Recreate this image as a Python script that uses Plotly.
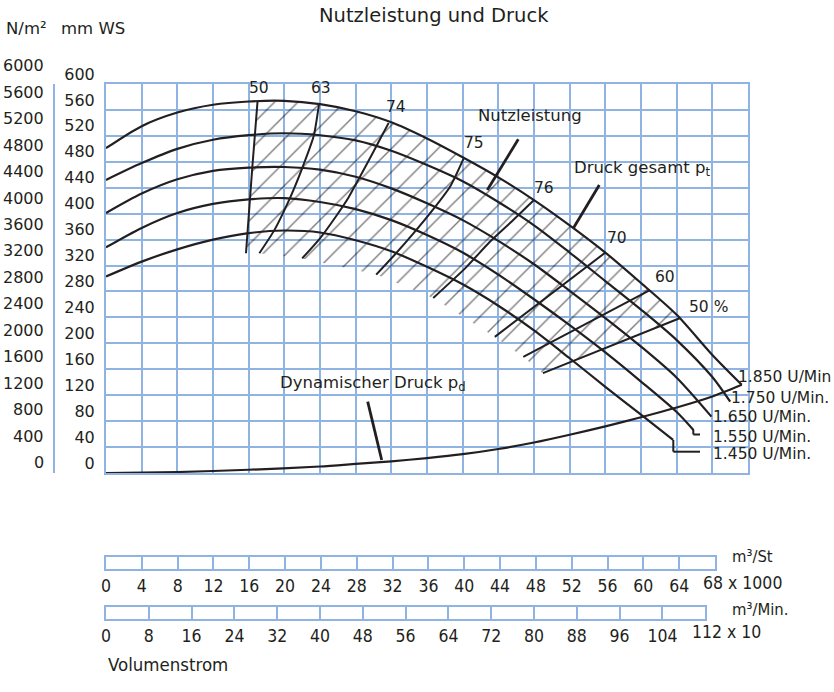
import plotly.graph_objects as go

W, H = 834, 692
INK = "#231f20"
GRID = "#8fb4e3"
FONT = "DejaVu Sans"
COND = "DejaVu Sans Condensed, Liberation Sans Narrow, Roboto Condensed, Roboto, sans-serif"

# ---------------- data (flow in 1000 m3/h, total pressure in mm WS) ----------------
Q_1850 = [0, 4, 8, 12, 16, 20, 24, 28, 32, 36, 40, 44, 48, 52, 56, 60, 64, 68, 71.3]
P_1850 = [501, 535, 556, 568, 573, 574, 569, 558, 541, 516, 487, 456, 421, 382, 340, 293, 244, 182, 136]
Q_1750 = [0, 4, 8, 12, 16, 20, 24, 28, 32, 36, 40, 44, 48, 52, 56, 60, 64, 68, 70]
P_1750 = [452, 478, 500, 514, 521, 524, 521, 513, 497, 475, 450, 418, 382, 340, 296, 252, 205, 148, 110]
Q_1650 = [0, 4, 8, 12, 16, 20, 24, 28, 32, 36, 40, 44, 48, 52, 56, 60, 64, 67.9]
P_1650 = [401, 431, 453, 466, 471, 472, 468, 457, 439, 416, 390, 358, 322, 281, 239, 195, 147, 87]
Q_1550 = [0, 4, 8, 12, 16, 20, 24, 28, 32, 36, 40, 44, 48, 52, 56, 60, 64, 65.9]
P_1550 = [348, 378, 401, 415, 422, 424, 418, 407, 390, 367, 340, 306, 268, 228, 186, 141, 94, 66]
Q_1450 = [0, 4, 8, 12, 16, 20, 24, 28, 32, 36, 40, 44, 48, 52, 56, 60, 63.6]
P_1450 = [303, 326, 345, 360, 370, 374, 371, 359, 342, 318, 291, 258, 220, 177, 133, 90, 51]

# dynamic pressure p_d
Q_DYN = [0, 8, 16, 24, 28, 32, 36, 40, 44, 48, 52, 56, 60, 64, 68, 71.3]
P_DYN = [0, 1.5, 5, 10, 14, 18, 23, 29, 37, 47, 59, 72, 86, 101, 118, 136]

# efficiency lines (top point on 1850 curve -> lower end)
ETA_50L_Q = [17.0, 16.4, 15.7]
ETA_50L_P = [574, 470, 339]
ETA_63_Q = [23.9, 23.3, 22.0, 20.5, 18.9, 17.2]
ETA_63_P = [570, 520, 470, 420, 375, 339]
ETA_74_Q = [31.7, 30.2, 28.6, 27.2, 25.9, 24.0, 22.0]
ETA_74_P = [540, 501, 460, 425, 398, 362, 331]
ETA_75_Q = [40.1, 38.6, 36.6, 34.5, 32.4, 30.3]
ETA_75_P = [485, 442, 405, 370, 337, 306]
ETA_76_Q = [48.0, 45.5, 43.0, 40.3, 36.7]
ETA_76_P = [421, 388, 356, 316, 270]
ETA_70_Q = [56.0, 43.6]
ETA_70_P = [340, 210]
ETA_60_Q = [61.0, 46.8]
ETA_60_P = [282, 179]
ETA_50R_Q = [64.4, 49.0]
ETA_50R_P = [239, 154]
ETA_LABELS = ["50", "63", "74", "75", "76", "70", "60", "50 %"]

SPEED_LABELS = ["1.850 U/Min", "1.750 U/Min.", "1.650 U/Min.", "1.550 U/Min.", "1.450 U/Min."]

MMWS_TICKS = list(range(0, 601, 40))
NM2_TICKS = list(range(0, 6001, 400))
NM2_PER_MMWS = 9.80665
M3H_TICKS = list(range(0, 69, 4))        # m3/h x 1000
M3MIN_TICKS = list(range(0, 113, 8))     # m3/min x 10

# ---------------- helpers ----------------
def fx(p):
    return p / W


def fy(p):
    return 1 - p / H


X0, X1, Y0, Y1 = 106, 748, 84, 473
YDOM = [fy(Y1), fy(Y0)]
YMAX = 600

fig = go.Figure()

# hatched working area
eff = [(ETA_50L_Q, ETA_50L_P), (ETA_63_Q, ETA_63_P), (ETA_74_Q, ETA_74_P),
       (ETA_75_Q, ETA_75_P), (ETA_76_Q, ETA_76_P), (ETA_70_Q, ETA_70_P),
       (ETA_60_Q, ETA_60_P), (ETA_50R_Q, ETA_50R_P)]
inside = [(q, p) for q, p in zip(Q_1850, P_1850) if ETA_50L_Q[0] < q < ETA_50R_Q[0]]
hx = ETA_50L_Q[::-1] + [q for q, _ in inside] + ETA_50R_Q
hy = ETA_50L_P[::-1] + [p for _, p in inside] + ETA_50R_P
for q, p in eff[1:-1][::-1]:
    hx.append(q[-1])
    hy.append(p[-1])
hx.append(ETA_50L_Q[-1])
hy.append(ETA_50L_P[-1])
fig.add_trace(go.Scatter(
    x=hx, y=hy, mode="lines", line=dict(width=0), fill="toself",
    fillcolor="rgba(0,0,0,0)",
    fillpattern=dict(shape="/", fgcolor="#000000", bgcolor="rgba(0,0,0,0)", size=16.5, solidity=0.085),
    hoverinfo="skip", showlegend=False))

# speed curves
for q, p in [(Q_1850, P_1850), (Q_1750, P_1750), (Q_1650, P_1650), (Q_1550, P_1550), (Q_1450, P_1450)]:
    fig.add_trace(go.Scatter(x=q, y=p, mode="lines", line=dict(color=INK, width=2.2, shape="spline", smoothing=0.8),
                             hoverinfo="skip", showlegend=False))

# dynamic pressure
fig.add_trace(go.Scatter(x=Q_DYN, y=P_DYN, mode="lines", line=dict(color=INK, width=2.2, shape="spline", smoothing=0.7),
                         hoverinfo="skip", showlegend=False))

# efficiency lines
for q, p in eff:
    fig.add_trace(go.Scatter(x=q, y=p, mode="lines", line=dict(color=INK, width=2, shape="spline", smoothing=0.6),
                             hoverinfo="skip", showlegend=False))

# invisible carriers so the two flow scales get drawn
fig.add_trace(go.Scatter(x=M3H_TICKS, y=[0.5] * len(M3H_TICKS), xaxis="x2", yaxis="y2", mode="markers",
                         marker=dict(opacity=0), hoverinfo="skip", showlegend=False))
fig.add_trace(go.Scatter(x=M3MIN_TICKS, y=[0.5] * len(M3MIN_TICKS), xaxis="x3", yaxis="y3", mode="markers",
                         marker=dict(opacity=0), hoverinfo="skip", showlegend=False))

# ---------------- annotations ----------------
ann = []


def text(t, x, y, size=16, xanchor="left", family=FONT):
    ann.append(dict(text=t, x=fx(x), y=fy(y), xref="paper", yref="paper", showarrow=False,
                    xanchor=xanchor, yanchor="middle", font=dict(family=family, size=size, color=INK)))


text("Nutzleistung und Druck", 434, 16, 19.5, "center")
text("N/m²", 4, 29, 16.5)
text("mm WS", 59, 29, 16.5)

# N/m2 scale: converted to mm WS, placed with the main pressure axis scale
for v in NM2_TICKS:
    yp = YDOM[0] + (v / NM2_PER_MMWS) / YMAX * (YDOM[1] - YDOM[0])
    ann.append(dict(text=str(v), x=fx(46), y=yp, xref="paper", yref="paper", yshift=10.5,
                    showarrow=False, xanchor="right", yanchor="middle",
                    font=dict(family=FONT, size=16, color=INK)))

eta_pos = [(259, 88), (321, 88), (396, 107), (474, 143), (544, 188), (617, 238), (665, 277), (708, 307)]
for lab, (x, y) in zip(ETA_LABELS, eta_pos):
    text(lab, x, y, 15.5, "center")

text("Nutzleistung", 476, 115, 16.5)
text("Druck gesamt p<sub>t</sub>", 572, 169, 16.5)
text("Dynamischer Druck p<sub>d</sub>", 278, 384, 16.5)

speed_pos = [(736, 377), (729, 398), (711, 417), (711, 437), (711, 454)]
for lab, (x, y) in zip(SPEED_LABELS, speed_pos):
    text(lab, x, y, 15.5)

text("m³/St", 730, 556, 16.5, family=COND)
text("68 x 1000", 701, 583, 17.5, family=COND)
text("m³/Min.", 730, 609, 16.5, family=COND)
text("112 x 10", 690, 632, 17.5, family=COND)
text("Volumenstrom", 106, 664, 18.5, family=COND)

# ---------------- shapes (leaders / scale line) ----------------
shapes = []


def seg(pts, w=2.6, color=INK):
    for (xa, ya), (xb, yb) in zip(pts[:-1], pts[1:]):
        shapes.append(dict(type="line", xref="paper", yref="paper", x0=fx(xa), y0=fy(ya), x1=fx(xb), y1=fy(yb),
                           line=dict(color=color, width=w)))


seg([(518.3, 139.3), (487.3, 190)], 2.8)
seg([(599.3, 185), (573.3, 228.3)], 2.8)
seg([(367.7, 401.7), (381.7, 460)], 2.8)
seg([(693.3, 430), (693.3, 434.5), (700, 434.5)], 2)
seg([(673.3, 440), (673.3, 451.7), (700, 451.7)], 2)
seg([(54, Y0), (54, Y1)], 2, GRID)

# ---------------- layout ----------------
axis_common = dict(showgrid=True, gridcolor=GRID, gridwidth=2, zeroline=False, showline=True, mirror=True,
                   linecolor=GRID, linewidth=2, ticks="", automargin=False)
bar_x = dict(showgrid=True, gridcolor=GRID, gridwidth=1.6, zeroline=False, showline=True,
             mirror=True, linecolor=GRID, linewidth=1.6, ticks="", ticklabelstandoff=0, automargin=False,
             tickfont=dict(size=17.5, family=COND, color=INK))
bar_y = dict(range=[0, 1], showgrid=False, showticklabels=False, zeroline=False, showline=True, mirror=True,
             linecolor=GRID, linewidth=1.6, ticks="", automargin=False)

x2 = dict(bar_x, anchor="y2", domain=[fx(106), fx(715)], range=[0, 68], tickvals=M3H_TICKS[:-1],
          ticktext=[str(v) for v in M3H_TICKS[:-1]])
x3 = dict(bar_x, anchor="y3", domain=[fx(106), fx(705.2)], range=[0, 112], tickvals=M3MIN_TICKS[:-1],
          ticktext=[str(v) for v in M3MIN_TICKS[:-1]])

fig.update_layout(
    width=W, height=H, margin=dict(l=0, r=0, t=0, b=0, pad=0, autoexpand=False),
    paper_bgcolor="white", plot_bgcolor="rgba(0,0,0,0)",
    font=dict(family=FONT, color=INK), showlegend=False,
    xaxis=dict(domain=[fx(X0), fx(X1)], range=[0, 72], dtick=4, tick0=0, showticklabels=False,
               anchor="y", **axis_common),
    yaxis=dict(domain=YDOM, range=[0, YMAX], tickvals=MMWS_TICKS, ticklabelshift=-10,
               ticklabelstandoff=6, tickfont=dict(size=16, color=INK, family=FONT), anchor="x", **axis_common),
    xaxis2=x2,
    yaxis2=dict(bar_y, anchor="x2", domain=[fy(569), fy(557)]),
    xaxis3=x3,
    yaxis3=dict(bar_y, anchor="x3", domain=[fy(619), fy(607)]),
    annotations=ann, shapes=shapes,
)

fig.write_html("out.html", config={"displayModeBar": False},
               post_script="document.body.style.margin='0px';")
